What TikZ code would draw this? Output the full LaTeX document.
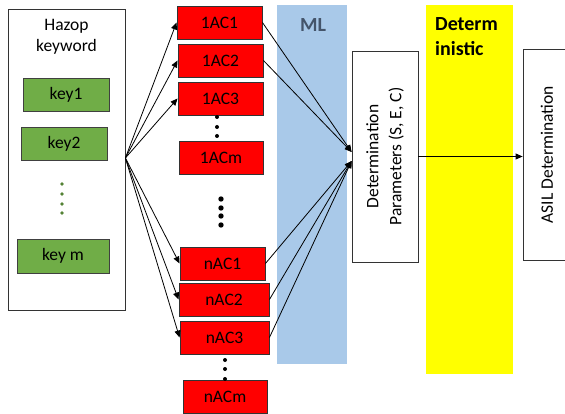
\documentclass[tikz,border=0pt]{standalone}
\usepackage{fontspec}
\setmainfont{Carlito}
\usetikzlibrary{arrows.meta,calc}
\definecolor{keygreen}{HTML}{70AD47}
\definecolor{dotgreen}{HTML}{548235}
\definecolor{mlblue}{HTML}{A9C9E9}
\definecolor{mltext}{HTML}{44546A}
\definecolor{detyellow}{HTML}{FFFF00}

\begin{document}
\begin{tikzpicture}[x=1pt,y=-1pt,
  every node/.style={font=\fontsize{17.5}{21}\selectfont, inner sep=0pt},
  keybox/.style={draw=black!75, fill=keygreen, line width=0.9pt, minimum height=33pt},
  acbox/.style={draw=black!80, fill=red, line width=0.9pt, minimum height=33pt},
  plainbox/.style={draw=black!80, fill=white, line width=0.8pt},
  conn/.style={-{Triangle[length=7pt,width=6pt]}, line width=0.8pt, black},
  bandtitle/.style={font=\fontsize{20}{25}\selectfont\bfseries},
  ]
\useasboundingbox (0,0) rectangle (565,414);
\clip (0,0) rectangle (565,414);

% background bands
\fill[mlblue] (277,5) rectangle (347,364);
\fill[detyellow] (426,5) rectangle (513,374);
\node[bandtitle, text=mltext] (mlt) at (313,25) {ML};
\node[bandtitle, anchor=west, align=left] (dett) at (435,36.5) {Determ\\inistic};

% keyword box
\node[plainbox, minimum width=117pt, minimum height=301pt] (hz) at (66.5,159.5) {};
\node[align=center] (hzt) at (66.5,36.5) {Hazop\\keyword};
\node[keybox, minimum width=86pt] (k1) at (66,95) {key1};
\node[keybox, minimum width=86pt] (k2) at (64,143.5) {key2};
\node[keybox, minimum width=92pt, minimum height=34pt] (km) at (63,256) {key m};
\foreach \y in {184,194,204,213} \fill[dotgreen] (62,\y) circle (1.8pt);

% abnormal-condition boxes
\node[acbox, minimum width=85pt] (a1) at (219.5,22.5) {1AC1};
\node[acbox, minimum width=85pt] (a2) at (220.5,60.5) {1AC2};
\node[acbox, minimum width=85pt] (a3) at (220.5,98.5) {1AC3};
\node[acbox, minimum width=84pt] (am) at (221,157.5) {1ACm};
\node[acbox, minimum width=85pt] (n1) at (222.5,263.5) {nAC1};
\node[acbox, minimum width=90pt] (n2) at (224,299.5) {nAC2};
\node[acbox, minimum width=89pt] (n3) at (224.5,337.5) {nAC3};
\node[acbox, minimum width=84pt] (nm) at (225,396.5) {nACm};
\foreach \y in {117,127,136} \fill (217,\y) circle (2pt);
\foreach \y in {199,208,216,225} \fill (221,\y) circle (2.7pt);
\foreach \y in {360,369,379} \fill (225,\y) circle (2pt);

% determination boxes
\node[plainbox, minimum width=66pt, minimum height=211pt] (det) at (385,156.5) {};
\node[rotate=90, align=center, font=\fontsize{17.5}{23}\selectfont] (dettxt) at (det.center) {Determination\\Parameters (S, E, C)};
\node[plainbox, minimum width=48pt, minimum height=211pt] (asil) at (547,154.5) {};
\node[rotate=90] (asiltxt) at (asil.center) {ASIL Determination};

% connectors
\coordinate (src) at ($(hz.east)+(0,-1.5)$);
\foreach \t in {a1,a2,a3,n1,n2,n3} \draw[conn] (src) -- (\t.west);
\coordinate (dup) at ($(det.west)+(0,-4.5)$);
\coordinate (dlo) at ($(det.west)+(0,4.5)$);
\draw[conn] (a1.east) -- (dup);
\draw[conn] (a2.east) -- (dup);
\draw[conn] (n1.east) -- (dlo);
\draw[conn] (n2.east) -- (dlo);
\draw[conn] (n3.east) -- (dlo);
\draw[conn] (det.east) -- (det.east -| asil.west);
\end{tikzpicture}
\end{document}
